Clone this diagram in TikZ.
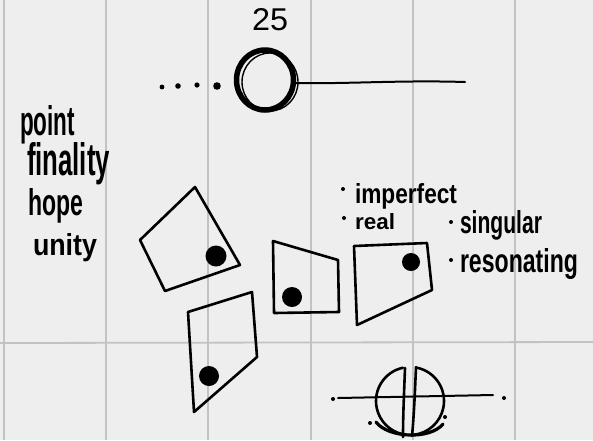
\documentclass[tikz,border=0pt]{standalone}
\usepackage{fontspec}
\setmainfont{Liberation Sans}
\usepackage{graphicx}
\newcommand{\hwtext}[3]{\resizebox{#1pt}{#2pt}{\bfseries #3}}
\newcommand{\hwthin}[3]{\resizebox{#1pt}{#2pt}{#3}}
\tikzset{
  ink/.style={draw=black, line width=2.6pt, line cap=round, line join=round},
  gridline/.style={draw=gridgray, line width=1.8pt},
  txt/.style={inner sep=0pt, outer sep=0pt, anchor=base west, text=black},
  dotmark/.style={fill=black, draw=none},
}
\definecolor{paper}{HTML}{EEEEEE}
\definecolor{gridgray}{HTML}{C2C2C2}
\begin{document}
\begin{tikzpicture}[x=1pt, y=-1pt]
\useasboundingbox (0,0) rectangle (593,440);
\fill[paper] (0,0) rectangle (593,440);
% grid
\foreach \gx in {4,106,208,311,413,515} { \draw[gridline] (\gx,0) -- (\gx,440); }
\draw[gridline] (0,343) -- (593,342);

% top: 25, dots, circle, line
\node[txt] (n25) at (252,30) {\hwthin{36}{22}{25}};
\fill[dotmark] (162,87) circle (2.4);
\fill[dotmark] (178,86) circle (2.8);
\fill[dotmark] (197,85) circle (2.6);
\fill[dotmark] (217,86) circle (3.8);
\draw[ink, line width=5.5pt] (265,80) ellipse (28.5 and 30);
\draw[ink, line width=1.4pt] (270,82) ellipse (28 and 29);
\draw[ink, line width=2pt] (296,83) .. controls (350,84) and (400,80) .. (465,82);

% left words
\node[txt] (wpoint) at (20,135) {\hwtext{55}{30}{point}};
\node[txt] (wfinal) at (27,175) {\hwtext{83}{33}{finality}};
\node[txt] (whope) at (28,215) {\hwtext{55}{27}{hope}};
\node[txt] (wunity) at (33,255) {\hwtext{64}{22}{unity}};

% right words
\fill[dotmark] (343,189) circle (2);
\node[txt] (wimp) at (355,203) {\hwtext{102}{20}{imperfect}};
\fill[dotmark] (344,218) circle (2);
\node[txt] (wreal) at (355,229) {\hwtext{40}{16}{real}};
\fill[dotmark] (451,222) circle (2);
\node[txt] (wsing) at (460,233) {\hwtext{82}{23}{singular}};
\fill[dotmark] (451,260) circle (2);
\node[txt] (wres) at (460,272) {\hwtext{118}{24}{resonating}};

% quadrilaterals
\draw[ink] (195,187) -- (240,265) -- (165,291) -- (140,240) -- cycle;
\fill[dotmark] (216,256) circle (10.5);
\draw[ink] (273,241) -- (338,260) -- (339,312) -- (274,313) -- cycle;
\fill[dotmark] (292,297) circle (10);
\draw[ink] (188,312) -- (252,292) -- (257,357) -- (194,412) -- cycle;
\fill[dotmark] (209,376) circle (10);
\draw[ink] (354,246) -- (427,243) -- (432,290) -- (357,325) -- cycle;
\fill[dotmark] (411,262) circle (9);

% bottom symbol
\coordinate (bc) at (410,401);
\draw[ink, line width=2pt] (338,398) -- (493,395);
\fill[dotmark] (333,399) circle (2);
\fill[dotmark] (504,398) circle (2);
\draw[ink] (bc) ++(258:34) arc[start angle=258, end angle=103, radius=34];
\draw[ink] (bc) ++(-78:34) arc[start angle=-78, end angle=83, radius=34];
\draw[ink] (405,368) .. controls (404,395) and (403,415) .. (403,437);
\draw[ink] (416,367) .. controls (415,390) and (414,415) .. (412,436);
\draw[ink, line width=3.2pt] (376,422) .. controls (388,438) and (430,440) .. (443,424);
\fill[dotmark] (370,423) circle (2);
\fill[dotmark] (445,417) circle (2);
\end{tikzpicture}
\end{document}
